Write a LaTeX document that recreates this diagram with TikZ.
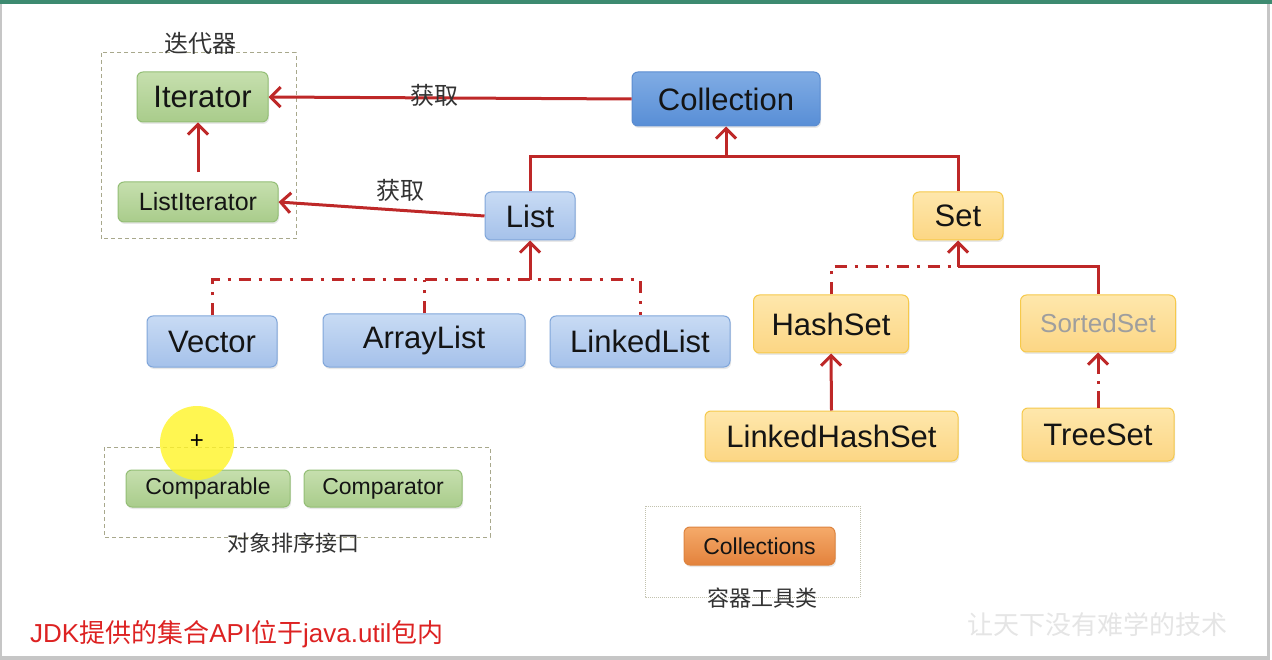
\documentclass[tikz,border=0pt]{standalone}
\usepackage{fontspec}
\setmainfont{Liberation Sans}
\newfontfamily\cjk{Noto Sans CJK SC}
\usetikzlibrary{arrows.meta,shadows}
\definecolor{lnred}{HTML}{BE2828}
\definecolor{gtop}{HTML}{C6DFAE}
\definecolor{gbot}{HTML}{A9CC8B}
\definecolor{gbrd}{HTML}{93BE75}
\definecolor{btop}{HTML}{C8DBF4}
\definecolor{bbot}{HTML}{A5C1EA}
\definecolor{bbrd}{HTML}{80A6DA}
\definecolor{ctop}{HTML}{80ACE4}
\definecolor{cbot}{HTML}{588ED6}
\definecolor{cbrd}{HTML}{5B8CD0}
\definecolor{ytop}{HTML}{FEE7AC}
\definecolor{ybot}{HTML}{FCD684}
\definecolor{ybrd}{HTML}{F6C94A}
\definecolor{otop}{HTML}{F5AA6A}
\definecolor{obot}{HTML}{E3823C}
\definecolor{obrd}{HTML}{DD843F}
\definecolor{grpc}{HTML}{A8A88C}
\definecolor{topbar}{HTML}{3D8A70}
\definecolor{notered}{HTML}{DD2222}
\newcommand\setfs[1]{\fontsize{#1}{#1}\selectfont}
\begin{document}
\begin{tikzpicture}[x=1pt,y=-1pt,
  box/.style={draw, rounded corners=6pt, line width=1pt, inner sep=0pt, text=black!92,
    drop shadow={opacity=0.18, shadow xshift=1pt, shadow yshift=-2pt}},
  gbox/.style={box, top color=gtop, bottom color=gbot, draw=gbrd},
  bbox/.style={box, top color=btop, bottom color=bbot, draw=bbrd},
  cbox/.style={box, top color=ctop, bottom color=cbot, draw=cbrd},
  ybox/.style={box, top color=ytop, bottom color=ybot, draw=ybrd},
  obox/.style={box, top color=otop, bottom color=obot, draw=obrd},
  grp/.style={draw=grpc, line width=1pt, dash pattern=on 4pt off 3pt},
  tgrp/.style={draw=grpc!70, line width=0.7pt, dash pattern=on 1pt off 1pt},
  ln/.style={draw=lnred, line width=3pt},
  arr/.style={ln, -{Straight Barb[length=10pt,width=20pt]}},
  dd/.style={ln, dash pattern=on 12pt off 8pt on 3pt off 8pt},
  lbl/.style={font=\cjk\setfs{24}, text=black!80, inner sep=0pt}
]
\useasboundingbox (0,0) rectangle (1272,660);
% frame
\fill[white] (0,0) rectangle (1272,660);
\fill[topbar] (0,0) rectangle (1272,4);
\fill[gray!45] (0,4) rectangle (2,660);
\fill[gray!45] (1267,4) rectangle (1270,660);
\fill[gray!45] (0,656) rectangle (1270,660);

% groups
\draw[grp] (101,53) rectangle (296,239);
\draw[grp] (104,447) rectangle (490,537);
\draw[tgrp] (645,506) rectangle (860,597);

% nodes
\node[gbox, minimum width=131pt, minimum height=50pt, font=\setfs{31}] (Iterator) at (202.5,97) {Iterator};
\node[gbox, minimum width=160pt, minimum height=40pt, font=\setfs{25}] (ListIterator) at (198,202) {ListIterator};
\node[cbox, minimum width=188pt, minimum height=54pt, font=\setfs{31}] (Collection) at (726,99) {Collection};
\node[bbox, minimum width=90pt, minimum height=48pt, font=\setfs{31}] (List) at (530,216) {List};
\node[ybox, minimum width=90pt, minimum height=48pt, font=\setfs{31}] (Set) at (958,216) {Set};
\node[bbox, minimum width=130pt, minimum height=51pt, font=\setfs{31}] (Vector) at (212,341.5) {Vector};
\node[bbox, minimum width=202pt, minimum height=53pt, font=\setfs{31}] (ArrayList) at (424,340.5) {ArrayList};
\node[bbox, minimum width=180pt, minimum height=51pt, font=\setfs{31}] (LinkedList) at (640,341.5) {LinkedList};
\node[ybox, minimum width=155pt, minimum height=58pt, font=\setfs{31}] (HashSet) at (831,324) {HashSet};
\node[ybox, minimum width=155pt, minimum height=57pt, font=\setfs{26}, text=black!38] (SortedSet) at (1098,323.5) {SortedSet};
\node[ybox, minimum width=253pt, minimum height=50pt, font=\setfs{31}] (LinkedHashSet) at (831.5,436) {LinkedHashSet};
\node[ybox, minimum width=152pt, minimum height=53pt, font=\setfs{31}] (TreeSet) at (1098,434.5) {TreeSet};
\node[gbox, minimum width=164pt, minimum height=37pt, font=\setfs{23}] (Comparable) at (208,488.5) {Comparable};
\node[gbox, minimum width=158pt, minimum height=37pt, font=\setfs{23}] (Comparator) at (383,488.5) {Comparator};
\node[obox, minimum width=151pt, minimum height=38pt, font=\setfs{23}] (Collections) at (759.5,546) {Collections};

% labels
\node[lbl] (tIter) at (200,43) {迭代器};
\node[lbl, font=\cjk\setfs{22}] (tSort) at (293,543) {对象排序接口};
\node[lbl, font=\cjk\setfs{22}] (tTool) at (762,598) {容器工具类};

% connectors
\draw[arr] (Collection.west) -- (Iterator.east);
\node[lbl] (get1) at (434,95) {获取};
\draw[arr] (List.west) -- (ListIterator.east);
\node[lbl] (get2) at (400,190) {获取};
\draw[arr, shorten <=9pt] (ListIterator.north) -- (ListIterator.north |- Iterator.south);

\coordinate (cj) at (726,157);
\draw[ln] (List.north) -- (List.north |- cj) -- (Set.north |- cj) -- (Set.north);
\draw[arr] (Collection.south |- cj) -- (Collection.south);

\coordinate (lj) at (528,280);
\draw[dd] (Vector.north) -- (Vector.north |- lj) -- (LinkedList.north |- lj) -- (LinkedList.north);
\draw[dd] (ArrayList.north) -- (ArrayList.north |- lj);
\draw[arr] (List.south |- lj) -- (List.south);

\coordinate (sj) at (958,267);
\draw[dd] (HashSet.north) -- (HashSet.north |- sj) -- (sj);
\draw[ln] (sj) -- (SortedSet.north |- sj) -- (SortedSet.north);
\draw[arr] (Set.south |- sj) -- (Set.south);

\draw[arr] (LinkedHashSet.north) -- (HashSet.south);
\draw[arr, dash pattern=on 17pt off 7pt on 3pt off 7pt] (TreeSet.north) -- (SortedSet.south);

% cursor highlight
\fill[yellow!85!white, opacity=0.8] (197,443) circle (37);
\node[font=\setfs{24}, inner sep=0pt] (plus) at (197,442) {+};

% footer texts
\node[anchor=west, font=\setfs{26}, text=notered, inner sep=0pt] (note) at (30,634) {JDK{\cjk 提供的集合}API{\cjk 位于}java.util{\cjk 包内}};
\node[font=\cjk\setfs{26}, text=black!10, inner sep=0pt] (wm) at (1097,625) {让天下没有难学的技术};
\end{tikzpicture}
\end{document}
